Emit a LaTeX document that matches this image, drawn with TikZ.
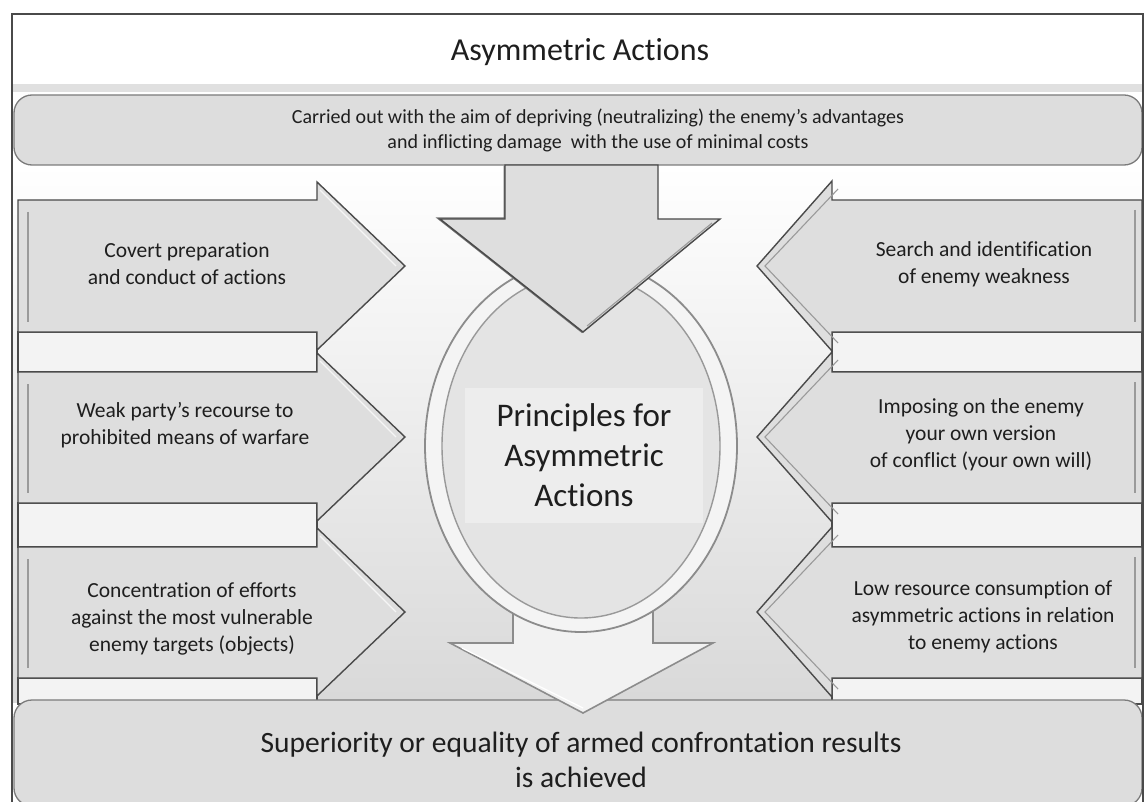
\documentclass[tikz,border=0pt]{standalone}
\usepackage{fontspec}
\setmainfont[Ligatures={NoCommon}]{Carlito}
\definecolor{edge}{HTML}{4A4A4A}
\definecolor{soft}{HTML}{9A9A9A}
\definecolor{arrfill}{HTML}{DEDEDE}
\definecolor{bandfill}{HTML}{F3F3F3}
\definecolor{bannerfill}{HTML}{DDDDDD}
\definecolor{ringfill}{HTML}{F4F4F4}
\definecolor{innerfill}{HTML}{E4E4E4}
\definecolor{panelfill}{HTML}{EDEDED}
\definecolor{txt}{HTML}{1E1E1E}
\newcommand{\LArrow}[3]{%
  \draw[arrowshape] (18,#1) -- (317,#1) -- (317,#2-84) -- (405,#2) -- (317,#2+84) -- (317,#3) -- (18,#3) -- cycle;
  \draw[innerline] (28,#1+12) -- (28,#3-10);
  \draw[hiline] (320,#2-76) -- (396,#2);
}
\newcommand{\RArrow}[3]{%
  \draw[arrowshape] (1142,#1) -- (832,#1) -- (832,#2-85) -- (757,#2) -- (832,#2+85) -- (832,#3) -- (1142,#3) -- cycle;
  \draw[innerline] (838,#2-77) -- (765,#2) -- (838,#2+77);
  \draw[innerline] (1135,#1+10) -- (1135,#3-10);
}
\tikzset{
  arrowshape/.style={fill=arrfill, draw=edge, line width=1.4pt, line join=miter},
  innerline/.style={draw=soft, line width=1.1pt},
  hiline/.style={draw=white, line width=1.2pt, opacity=0.7},
  bandbox/.style={fill=bandfill, draw=edge, line width=1.2pt},
  bannerbox/.style={fill=bannerfill, draw=soft!80!black, line width=1.3pt, rounded corners=18pt},
  sidetext/.style={align=center, text=txt, font=\fontsize{21.5}{27}\selectfont},
}
\begin{document}
\begin{tikzpicture}[x=1pt,y=-1pt]
\useasboundingbox (0,0) rectangle (1145,802);
\fill[white] (0,0) rectangle (1145,802);
% middle background
\shade[top color=white, middle color=white, bottom color=black!15] (12,165) rectangle (1142,702);
% title shadow line
\fill[black!12] (12,84) rectangle (1142,92);
% top banner
\draw[bannerbox] (14,95) rectangle (1142,165);
\node[text=txt, font=\fontsize{32}{38}\selectfont] (title) at (580,52) {Asymmetric Actions};
\node[align=center, text=txt, font=\fontsize{20}{25}\selectfont] (aim) at (598,130)
  {Carried out with the aim of depriving (neutralizing) the enemy's advantages\\and inflicting damage\ \ with the use of minimal costs};
% bands between arrows
\draw[bandbox] (18,332) rectangle (317,372);
\draw[bandbox] (18,503) rectangle (317,547);
\draw[bandbox] (18,678) rectangle (317,704);
\draw[bandbox] (832,332) rectangle (1142,372);
\draw[bandbox] (832,503) rectangle (1142,547);
\draw[bandbox] (832,678) rectangle (1142,704);
% side arrows
\LArrow{200}{266}{332}
\LArrow{372}{437}{503}
\LArrow{547}{612}{678}
\RArrow{200}{266}{332}
\RArrow{372}{437}{503}
\RArrow{547}{612}{678}
\node[sidetext] (l1) at (187,264) {Covert preparation\\and conduct of actions};
\node[sidetext] (l2) at (185,425) {Weak party's recourse to\\prohibited means of warfare};
\node[sidetext] (l3) at (192,619) {Concentration of efforts\\against the most vulnerable\\enemy targets (objects)};
\node[sidetext] (r1) at (984,264) {Search and identification\\of enemy weakness};
\node[sidetext] (r2) at (981,435) {Imposing on the enemy\\your own version\\of conflict (your own will)};
\node[sidetext] (r3) at (983,617) {Low resource consumption of\\asymmetric actions in relation\\to enemy actions};
% bottom banner
\draw[bannerbox] (14,700) rectangle (1142,806);
% bottom arrow
\draw[fill=black!5, draw=black!45, line width=1.6pt, line join=miter]
  (513,600) -- (653,600) -- (653,643) -- (713,643) -- (583,713) -- (450,643) -- (513,643) -- cycle;
\draw[white, line width=1.2pt] (462,648) -- (583,708);
% circle
\draw[fill=ringfill, draw=black!45, line width=1.8pt] (581,446) ellipse [x radius=156, y radius=186];
\draw[fill=innerfill, draw=black!40, line width=1.4pt] (581,446) ellipse [x radius=139, y radius=172];
\fill[panelfill] (465,388) rectangle (703,523);
\node[align=center, text=txt, font=\fontsize{33}{40}\selectfont] (principles) at (584,455)
  {Principles for\\Asymmetric\\Actions};
% top arrow
\draw[black!55, line width=3pt, line join=miter] (505,166) -- (505,219) -- (440,219) -- (583,332);
\draw[arrowshape] (505,165) -- (658,165) -- (658,219) -- (720,219) -- (583,332) -- (440,219) -- (505,219) -- cycle;
\draw[innerline] (712,223) -- (587,326);
% result text
\node[align=center, text=txt, font=\fontsize{29.5}{35}\selectfont] (result) at (581,760)
  {Superiority or equality of armed confrontation results\\is achieved};
% frame
\draw[edge, line width=1.6pt] (12,806) -- (12,14) -- (1143,14) -- (1143,806);
\end{tikzpicture}
\end{document}
